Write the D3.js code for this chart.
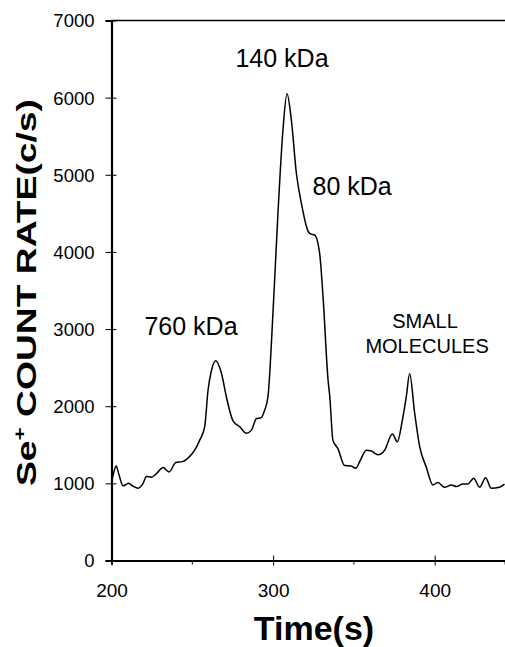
<!DOCTYPE html>
<html>
<head>
<meta charset="utf-8">
<script src="https://cdn.jsdelivr.net/npm/d3@7"></script>
<style>
  html, body { margin: 0; padding: 0; background: #fff; }
  svg { display: block; }
  text { font-family: "Liberation Sans", Arial, Helvetica, sans-serif; fill: #000; }
</style>
</head>
<body>
<svg id="chart" width="505" height="647"></svg>
<script>
// ---- data ----
const timeS = [200, 201.5, 202.9, 204.5, 207.2, 209, 210.3, 212.5, 216.5, 219.5, 221.6, 224.7, 228, 231.9, 235.6, 239.8, 243.9, 248.4, 251.5, 254.6, 257.7, 259.7, 261.8, 264.5, 268.0, 271.1, 275.2, 279.3, 283.5, 286.6, 289.7, 292.5, 294.8, 296.8, 299.9, 303.0, 306.1, 308.6, 311.3, 314.4, 317.5, 321.6, 323.5, 325.7, 328.8, 330.9, 334.0, 335.1, 337.0, 340.1, 344.3, 348.4, 351.1, 354, 357.7, 360.8, 364.9, 369.0, 373.8, 376.9, 380.0, 382.4, 384.5, 387.6, 390.7, 394.8, 398.9, 402.0, 406.1, 410.3, 413.4, 417.4, 420.5, 424.1, 427.8, 431.5, 435.0, 440.1, 443.2];
const countRate = [1010, 1150, 1225, 1120, 968, 985, 1000, 975, 938, 1000, 1090, 1080, 1130, 1205, 1148, 1270, 1282, 1350, 1430, 1560, 1740, 2200, 2460, 2590, 2430, 2120, 1810, 1735, 1650, 1690, 1840, 1850, 1950, 2120, 3200, 4500, 5580, 6050, 5710, 5020, 4630, 4270, 4230, 4220, 3980, 3420, 2340, 2120, 1560, 1450, 1230, 1225, 1195, 1300, 1430, 1420, 1370, 1430, 1640, 1540, 1820, 2120, 2420, 1910, 1475, 1210, 980, 1010, 950, 980, 958, 992, 992, 1066, 950, 1073, 936, 950, 990];
const yTicks = [0, 1000, 2000, 3000, 4000, 5000, 6000, 7000];
const xTicks = [200, 300, 400];
const xMinorTicks = [250, 350];
const peakLabels = ["140 kDa", "80 kDa", "760 kDa"];
const peakLabelTimes = [305.5, 348.9, 249.2];
const peakLabelValues = [6400, 4740, 2925];
const smallLabel = ["SMALL", "MOLECULES"];
const smallLabelTimes = [394, 395.3];
const smallLabelValues = [3014, 2690];

// ---- scales ----
const svg = d3.select("#chart");
const x = d3.scaleLinear().domain([200, 443.5]).range([111.5, 505]);
const y = d3.scaleLinear().domain([0, 7000]).range([560.5, 20.5]);

// top border
svg.append("line").attr("x1", 111.5).attr("x2", 505).attr("y1", y(7000)).attr("y2", y(7000))
  .attr("stroke", "#000").attr("stroke-width", 1.6);

// y axis
const gy = svg.append("g").attr("transform", "translate(111.5,0)")
  .call(d3.axisLeft(y).tickValues(yTicks).tickSize(6).tickPadding(11).tickFormat(d3.format("d")));
gy.select(".domain").attr("stroke-width", 2.2);
gy.selectAll(".tick line").attr("x1", 5).attr("x2", -6).attr("stroke-width", 1);
gy.selectAll(".tick text").style("font-size", "18.5px").attr("dy", "0.35em");

// x axis
const gx = svg.append("g").attr("transform", "translate(0,560.5)")
  .call(d3.axisBottom(x).tickValues(xTicks).tickSize(4).tickPadding(19).tickFormat(d3.format("d")));
gx.select(".domain").attr("stroke-width", 1.8);
gx.selectAll(".tick line").attr("y1", -5).attr("y2", 5).attr("stroke-width", 1);
gx.selectAll(".tick text").style("font-size", "19px");
gx.selectAll(".minor").data(xMinorTicks).enter().append("line")
  .attr("class", "minor").attr("x1", d => x(d)).attr("x2", d => x(d))
  .attr("y1", 0).attr("y2", 4).attr("stroke", "#000").attr("stroke-width", 1);

// curve
const pts = timeS.map((t, i) => [t, countRate[i]]);
const line = d3.line().x(d => x(d[0])).y(d => y(d[1])).curve(d3.curveMonotoneX);
svg.append("path").datum(pts).attr("d", line)
  .attr("fill", "none").attr("stroke", "#000").attr("stroke-width", 1.5).attr("stroke-linejoin", "round");

// peak annotations
peakLabels.forEach((s, i) => {
  svg.append("text").attr("x", x(peakLabelTimes[i])).attr("y", y(peakLabelValues[i]))
    .attr("text-anchor", "middle").style("font-size", "25px").text(s);
});
smallLabel.forEach((s, i) => {
  svg.append("text").attr("x", x(smallLabelTimes[i])).attr("y", y(smallLabelValues[i]))
    .attr("text-anchor", "middle").style("font-size", "20px").text(s);
});

// axis titles
svg.append("text").attr("x", 314).attr("y", 640).attr("text-anchor", "middle")
  .style("font-size", "34px").style("font-weight", "bold").text("Time(s)");

const yt = svg.append("text")
  .attr("transform", "translate(36,486) rotate(-90) scale(1.33,1)")
  .attr("x", 0).attr("y", 0)
  .style("font-size", "28px").style("font-weight", "bold");
yt.append("tspan").text("Se");
yt.append("tspan").attr("dy", -11).style("font-size", "17px").text("+");
yt.append("tspan").attr("dy", 11).text(" COUNT RATE(c/s)");
</script>
</body>
</html>
